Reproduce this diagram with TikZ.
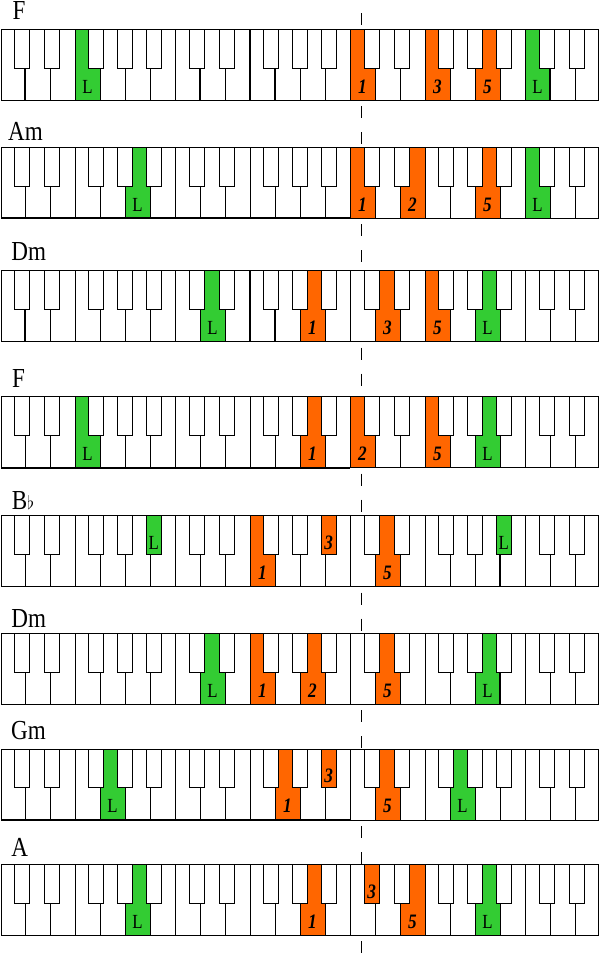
\documentclass[tikz,border=0pt]{standalone}
\usepackage{fontspec}
\setmainfont{Liberation Serif}[FakeStretch=0.84]
\usepackage{graphicx}
\definecolor{keyorange}{RGB}{255,102,0}
\definecolor{keygreen}{RGB}{51,204,51}
\tikzset{
  keyline/.style={line width=1pt, draw=black},
  heavyline/.style={line width=2pt, draw=black},
  blackkey/.style={draw=black, line width=1pt, fill=white},
  chordlab/.style={anchor=base west, inner sep=0pt, font=\fontsize{27.5}{28}\selectfont},
  keylab/.style={anchor=base, inner sep=0pt, font=\fontsize{20}{20}\selectfont},
  numlab/.style={anchor=base, inner sep=0pt, font=\fontsize{20.5}{20.5}\selectfont\bfseries\itshape},
  guide/.style={line width=1pt, draw=black, dash pattern=on 12pt off 14pt},
}
\newcommand\KbBase{\fill[white] (1,0) rectangle (598.5,71);}
\newcommand\KbW[2]{\fill[#2] ({25*#1},0) rectangle ({25*#1+25},71);}
\newcommand\KbB[2]{\draw[blackkey, fill=#2] (#1,0) rectangle ++(15.5,38.7);}
\newcommand\KbFrame{%
  \foreach \i in {1,...,23} {\draw[keyline] ({25*\i},0) -- ({25*\i},71);}
  \foreach \o in {0,175,350,525} {
    \draw[blackkey] ({\o+14},0) rectangle ++(15.5,38.7);
    \draw[blackkey] ({\o+44.25},0) rectangle ++(15.5,38.7);}
  \foreach \o in {0,175,350} {
    \draw[blackkey] ({\o+88},0) rectangle ++(15.5,38.7);
    \draw[blackkey] ({\o+117.25},0) rectangle ++(15.5,38.7);
    \draw[blackkey] ({\o+146},0) rectangle ++(15.5,38.7);}
}
\newcommand\KbOutline{\draw[keyline] (1,0) rectangle (598.5,71);}
\begin{document}
\begin{tikzpicture}[x=1pt,y=-1pt]
\useasboundingbox (0,0) rectangle (600,954);
% guide line (visible between keyboards)
\draw[guide] (361.5,13) -- (361.5,29.3);
\draw[guide] (361.5,106.3) -- (361.5,147.3);
\draw[guide] (361.5,224.3) -- (361.5,270.7);
\draw[guide] (361.5,347.7) -- (361.5,396.7);
\draw[guide] (361.5,473.7) -- (361.5,515.7);
\draw[guide] (361.5,592.7) -- (361.5,633.3);
\draw[guide] (361.5,710.3) -- (361.5,749);
\draw[guide] (361.5,826) -- (361.5,864.3);
\draw[guide] (361.5,941.3) -- (361.5,954);

% chord names
\node[chordlab] (c1) at (12.4,19.3) {F};
\node[chordlab] (c2) at (7.9,140) {Am};
\node[chordlab] (c3) at (11.3,260) {Dm};
\node[chordlab] (c4) at (12,387.7) {F};
\node[chordlab] (c5) at (11.6,509) {B\scalebox{0.75}{$\flat$}};
\node[chordlab] (c6) at (11.3,627.3) {Dm};
\node[chordlab] (c7) at (10.9,739) {Gm};
\node[chordlab] (c8) at (11.3,856.7) {A};

% 1: F
\begin{scope}[shift={(0,29.3)}]
\KbBase
\KbW{3}{keygreen}\KbW{14}{keyorange}\KbW{17}{keyorange}\KbW{19}{keyorange}\KbW{21}{keygreen}
\KbFrame
\KbOutline
\draw[heavyline] (25,38.7) -- (25,71);
\draw[heavyline] (200,38.7) -- (200,71);
\draw[heavyline] (250,0) -- (250,71);
\draw[heavyline] (275,38.7) -- (275,71);
\draw[heavyline] (550,38.7) -- (550,71);
\node[keylab] (a1) at (87.5,63.7) {L};
\node[numlab] (a2) at (362.5,63.7) {1};
\node[numlab] (a3) at (437.5,63.7) {3};
\node[numlab] (a4) at (487.5,63.7) {5};
\node[keylab] (a5) at (537.5,63.7) {L};
\end{scope}

% 2: Am
\begin{scope}[shift={(0,147.3)}]
\KbBase
\KbW{5}{keygreen}\KbW{14}{keyorange}\KbW{16}{keyorange}\KbW{19}{keyorange}\KbW{21}{keygreen}
\KbFrame
\KbOutline
\draw[heavyline] (1,71) -- (350,71);
\node[keylab] (b1) at (137.5,63.7) {L};
\node[numlab] (b2) at (362.5,63.7) {1};
\node[numlab] (b3) at (412.5,63.7) {2};
\node[numlab] (b4) at (487.5,63.7) {5};
\node[keylab] (b5) at (537.5,63.7) {L};
\end{scope}

% 3: Dm
\begin{scope}[shift={(0,270.7)}]
\KbBase
\KbW{8}{keygreen}\KbW{12}{keyorange}\KbW{15}{keyorange}\KbW{17}{keyorange}\KbW{19}{keygreen}
\KbFrame
\KbOutline
\draw[heavyline] (25,38.7) -- (25,71);
\draw[heavyline] (250,0) -- (250,71);
\draw[heavyline] (275,38.7) -- (275,71);
\node[keylab] (d1) at (212.5,63.7) {L};
\node[numlab] (d2) at (312.5,63.7) {1};
\node[numlab] (d3) at (387.5,63.7) {3};
\node[numlab] (d4) at (437.5,63.7) {5};
\node[keylab] (d5) at (487.5,63.7) {L};
\end{scope}

% 4: F
\begin{scope}[shift={(0,396.7)}]
\KbBase
\KbW{3}{keygreen}\KbW{12}{keyorange}\KbW{14}{keyorange}\KbW{17}{keyorange}\KbW{19}{keygreen}
\KbFrame
\KbOutline
\draw[heavyline] (1,71) -- (350,71);
\node[keylab] (e1) at (87.5,63.7) {L};
\node[numlab] (e2) at (312.5,63.7) {1};
\node[numlab] (e3) at (362.5,63.7) {2};
\node[numlab] (e4) at (437.5,63.7) {5};
\node[keylab] (e5) at (487.5,63.7) {L};
\end{scope}

% 5: Bb
\begin{scope}[shift={(0,515.7)}]
\KbBase
\KbW{10}{keyorange}\KbW{15}{keyorange}
\KbFrame
\KbB{146}{keygreen}\KbB{321}{keyorange}\KbB{496}{keygreen}
\KbOutline
\draw[heavyline] (500,38.7) -- (500,71);
\node[keylab] (g1) at (153.75,33.7) {L};
\node[numlab] (g2) at (262.5,63.7) {1};
\node[numlab] (g3) at (328.75,33.7) {3};
\node[numlab] (g4) at (387.5,63.7) {5};
\node[keylab] (g5) at (503.75,33.7) {L};
\end{scope}

% 6: Dm
\begin{scope}[shift={(0,633.3)}]
\KbBase
\KbW{8}{keygreen}\KbW{10}{keyorange}\KbW{12}{keyorange}\KbW{15}{keyorange}\KbW{19}{keygreen}
\KbFrame
\KbOutline
\draw[heavyline] (500,38.7) -- (500,71);
\node[keylab] (h1) at (212.5,63.7) {L};
\node[numlab] (h2) at (262.5,63.7) {1};
\node[numlab] (h3) at (312.5,63.7) {2};
\node[numlab] (h4) at (387.5,63.7) {5};
\node[keylab] (h5) at (487.5,63.7) {L};
\end{scope}

% 7: Gm
\begin{scope}[shift={(0,749)}]
\KbBase
\KbW{4}{keygreen}\KbW{11}{keyorange}\KbW{15}{keyorange}\KbW{18}{keygreen}
\KbFrame
\KbB{321}{keyorange}
\KbOutline
\draw[heavyline] (1,71) -- (350,71);
\node[keylab] (m1) at (112.5,63.7) {L};
\node[numlab] (m2) at (287.5,63.7) {1};
\node[numlab] (m3) at (328.75,33.7) {3};
\node[numlab] (m4) at (387.5,63.7) {5};
\node[keylab] (m5) at (462.5,63.7) {L};
\end{scope}

% 8: A
\begin{scope}[shift={(0,864.3)}]
\KbBase
\KbW{5}{keygreen}\KbW{12}{keyorange}\KbW{16}{keyorange}\KbW{19}{keygreen}
\KbFrame
\KbB{364}{keyorange}
\KbOutline
\node[keylab] (n1) at (137.5,63.7) {L};
\node[numlab] (n2) at (312.5,63.7) {1};
\node[numlab] (n3) at (371.75,33.7) {3};
\node[numlab] (n4) at (412.5,63.7) {5};
\node[keylab] (n5) at (487.5,63.7) {L};
\end{scope}
\end{tikzpicture}
\end{document}
